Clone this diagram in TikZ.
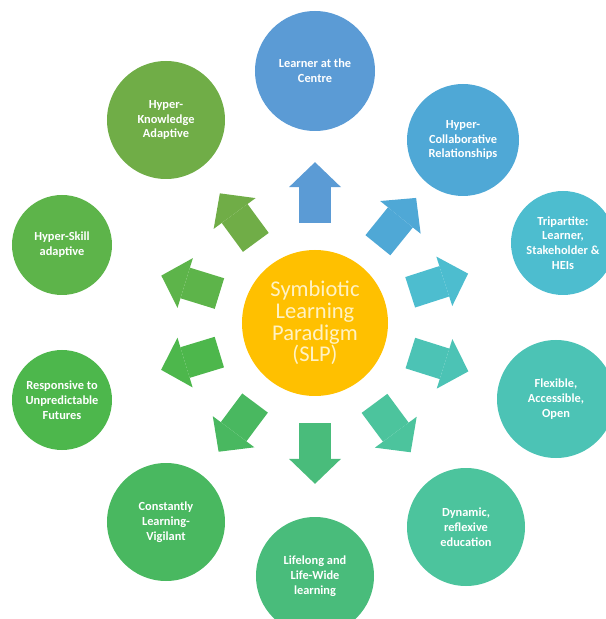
\documentclass[tikz,border=0pt]{standalone}
\usepackage{fontspec}
\setmainfont{Carlito}
\usepackage{tikz}
\usetikzlibrary{arrows.meta,calc}
\definecolor{slpgold}{HTML}{FFC000}
\definecolor{slptext}{HTML}{FFF2C4}
\definecolor{cblue}{HTML}{5B9BD5}
\definecolor{cskyblue}{HTML}{4FA8D6}
\definecolor{ccyan}{HTML}{4DBDCF}
\definecolor{cteal}{HTML}{4CC3B5}
\definecolor{cseagreen}{HTML}{4CC49D}
\definecolor{cmint}{HTML}{49BC7B}
\definecolor{cgreen}{HTML}{49B860}
\definecolor{cleaf}{HTML}{4DB74C}
\definecolor{cgrass}{HTML}{5DB44A}
\definecolor{colive}{HTML}{70AD47}
\tikzset{
  hub/.style={circle,fill=slpgold,minimum size=3.65cm,inner sep=0pt,
              align=center,text=slptext,font=\fontsize{16}{15.5}\selectfont},
  spoke/.style={circle,minimum size=2.95cm,inner sep=0pt,align=center,
                text=white,font=\fontsize{8.8}{10.5}\selectfont\bfseries},
  blockarrow/.style={line width=0.8cm,
                     -{Triangle[length=0.625cm,width=1.3cm,line width=0pt,
                                sep=-0.6pt]}},
}

\begin{document}
\begin{tikzpicture}
  \useasboundingbox (-7.875,-7.4) rectangle (7.25,8.075);
  % central paradigm
  \node[hub](slp)at(0,0){Symbiotic\\Learning\\Paradigm\\(SLP)};

  % surrounding qualities, clockwise from the top
  \node[spoke,fill=cblue,minimum size=3.0cm](learner)at(0,6.3)
    {Learner at the\\Centre};
  \node[spoke,fill=cskyblue,minimum size=2.8cm](collab)at(3.7,4.575)
    {Hyper-\\Collaborative\\Relationships};
  \node[spoke,fill=ccyan,minimum size=2.6cm](tripartite)at(6.2,2.0)
    {Tripartite:\\Learner,\\Stakeholder \&\\HEIs};
  \node[spoke,fill=cteal](flexible)at(6.025,-1.9)
    {Flexible,\\Accessible,\\Open};
  \node[spoke,fill=cseagreen](dynamic)at(3.775,-5.1)
    {Dynamic,\\reflexive\\education};
  \node[spoke,fill=cmint](lifelong)at(0,-6.325)
    {Lifelong and\\Life-Wide\\learning};
  \node[spoke,fill=cgreen](vigilant)at(-3.725,-4.975)
    {Constantly\\Learning-\\Vigilant};
  \node[spoke,fill=cleaf,minimum size=2.5cm](responsive)at(-6.325,-1.925)
    {Responsive to\\Unpredictable\\Futures};
  \node[spoke,fill=cgrass,minimum size=2.5cm](skill)at(-6.325,1.95)
    {Hyper-Skill\\adaptive};
  \node[spoke,fill=colive](knowledge)at(-3.725,5.075)
    {Hyper-\\Knowledge\\Adaptive};

  % block arrows out of the hub
  \draw[blockarrow,cblue]($(slp.center)!2.5cm!(learner.center)$)
    --($(slp.center)!4cm!(learner.center)$);
  \draw[blockarrow,cskyblue]($(slp.center)!2.5cm!(collab.center)$)
    --($(slp.center)!4cm!(collab.center)$);
  \draw[blockarrow,ccyan]($(slp.center)!2.5cm!(tripartite.center)$)
    --($(slp.center)!4cm!(tripartite.center)$);
  \draw[blockarrow,cteal]($(slp.center)!2.5cm!(flexible.center)$)
    --($(slp.center)!4cm!(flexible.center)$);
  \draw[blockarrow,cseagreen]($(slp.center)!2.5cm!(dynamic.center)$)
    --($(slp.center)!4cm!(dynamic.center)$);
  \draw[blockarrow,cmint]($(slp.center)!2.5cm!(lifelong.center)$)
    --($(slp.center)!4cm!(lifelong.center)$);
  \draw[blockarrow,cgreen]($(slp.center)!2.5cm!(vigilant.center)$)
    --($(slp.center)!4cm!(vigilant.center)$);
  \draw[blockarrow,cleaf]($(slp.center)!2.5cm!(responsive.center)$)
    --($(slp.center)!4cm!(responsive.center)$);
  \draw[blockarrow,cgrass]($(slp.center)!2.5cm!(skill.center)$)
    --($(slp.center)!4cm!(skill.center)$);
  \draw[blockarrow,colive]($(slp.center)!2.5cm!(knowledge.center)$)
    --($(slp.center)!4cm!(knowledge.center)$);
\end{tikzpicture}
\end{document}
